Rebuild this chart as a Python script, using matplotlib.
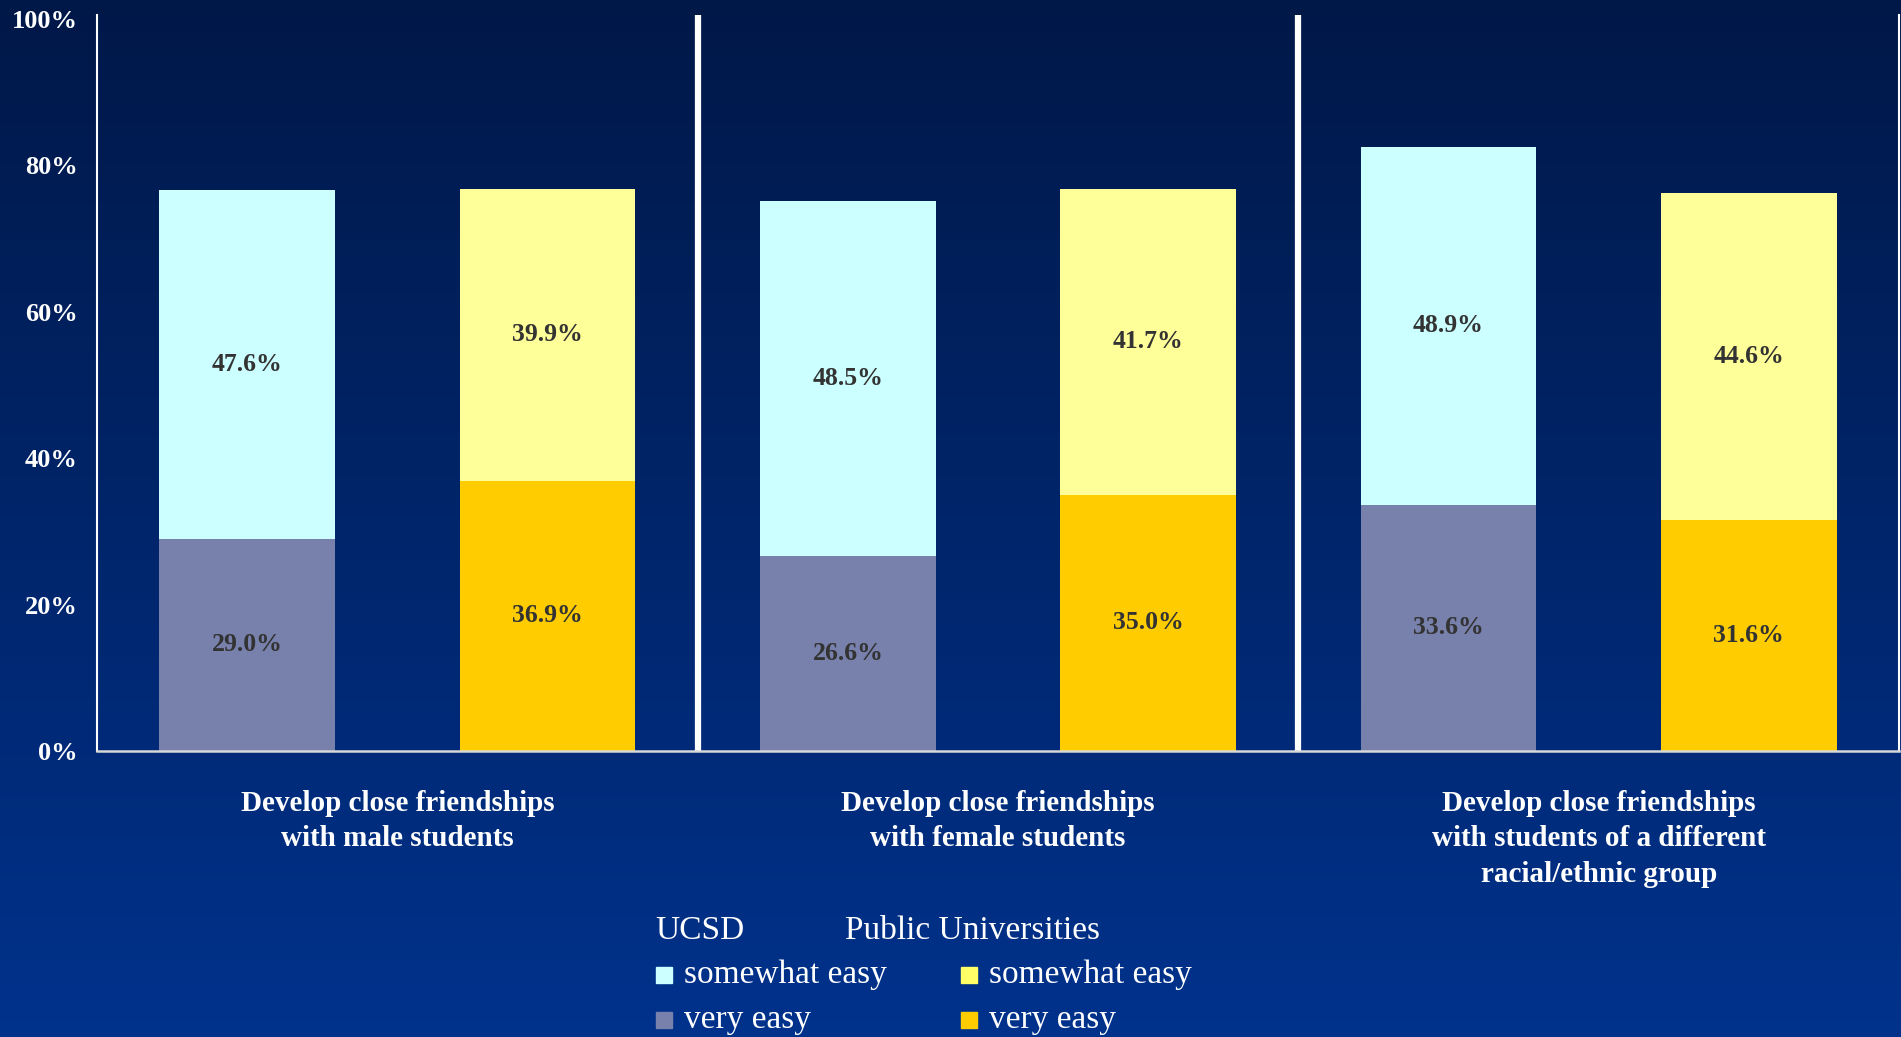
import numpy as np
import matplotlib
matplotlib.use("Agg")
import matplotlib.pyplot as plt
from matplotlib.patches import Rectangle

plt.rcParams['font.family'] = ['Liberation Serif', 'DejaVu Serif']

# Datos
categories = ["Develop close friendships\nwith male students",
              "Develop close friendships\nwith female students",
              "Develop close friendships\nwith students of a different\nracial/ethnic group"]
ucsd_very = [29.0, 26.6, 33.6]
ucsd_somewhat = [47.6, 48.5, 48.9]
public_very = [36.9, 35.0, 31.6]
public_somewhat = [39.9, 41.7, 44.6]
yticks = [0, 20, 40, 60, 80, 100]

c_ucsd_very = "#7880ac"
c_ucsd_some = "#ccffff"
c_pub_very = "#ffcc00"
c_pub_some = "#ffff99"

W, H = 1901, 1037
fig = plt.figure(figsize=(W / 100, H / 100), dpi=100)

# fondo degradado
bg = fig.add_axes([0, 0, 1, 1], zorder=-1)
top = np.array([0, 24, 72]) / 255
bot = np.array([0, 50, 140]) / 255
t = np.linspace(0, 1, 256)[:, None]
grad = (top * (1 - t) + bot * t)[:, None, :]
bg.imshow(grad, aspect="auto", extent=[0, 1, 0, 1])
bg.axis("off")

ax = fig.add_axes([97 / W, 1 - 751 / H, (1899 - 97) / W, (751 - 15) / H])
ax.set_facecolor("none")

n = len(categories)
x_ucsd = np.arange(n) * 2 + 0.5
x_pub = np.arange(n) * 2 + 1.5
bw = 0.585

ax.bar(x_ucsd, ucsd_very, bw, color=c_ucsd_very)
ax.bar(x_ucsd, ucsd_somewhat, bw, bottom=ucsd_very, color=c_ucsd_some)
ax.bar(x_pub, public_very, bw, color=c_pub_very)
ax.bar(x_pub, public_somewhat, bw, bottom=public_very, color=c_pub_some)

lab = dict(ha="center", va="center", fontsize=18.5, fontweight="bold", color="#333333")
for i in range(n):
    ax.text(x_ucsd[i], ucsd_very[i] / 2, f"{ucsd_very[i]:.1f}%", **lab)
    ax.text(x_ucsd[i], ucsd_very[i] + ucsd_somewhat[i] / 2, f"{ucsd_somewhat[i]:.1f}%", **lab)
    ax.text(x_pub[i], public_very[i] / 2, f"{public_very[i]:.1f}%", **lab)
    ax.text(x_pub[i], public_very[i] + public_somewhat[i] / 2, f"{public_somewhat[i]:.1f}%", **lab)

# separadores
for xs in [2, 4]:
    ax.axvline(xs, color="white", lw=4.5)

ax.set_xlim(0, 6)
ax.set_ylim(0, 100.5)
ax.set_yticks(yticks)
ax.set_yticklabels([f"{v}%" for v in yticks], fontsize=19, fontweight="bold", color="white")
ax.set_xticks(np.arange(n) * 2 + 1)
ax.set_xticklabels(categories, fontsize=21, fontweight="bold", color="white", linespacing=1.4)
ax.tick_params(axis="y", length=0, pad=14)
ax.tick_params(axis="x", length=0, pad=28)

ax.spines["top"].set_visible(False)
ax.spines["left"].set_color("white")
ax.spines["left"].set_linewidth(1.5)
ax.spines["right"].set_color("white")
ax.spines["right"].set_linewidth(1.5)
ax.spines["bottom"].set_color("#d8d8d8")
ax.spines["bottom"].set_linewidth(1.8)

# leyenda manual
leg = dict(fontsize=24, color="white", va="center", ha="left")
fig.text(655 / W, 1 - 931 / H, "UCSD", **leg)
fig.text(845 / W, 1 - 931 / H, "Public Universities", **leg)
items = [(656, 975, c_ucsd_some, "somewhat easy"),
         (656, 1020, c_ucsd_very, "very easy"),
         (961, 975, "#ffff66", "somewhat easy"),
         (961, 1020, c_pub_very, "very easy")]
sq = 16
for x0, yc, col, txt in items:
    fig.patches.append(Rectangle((x0 / W, 1 - (yc + sq / 2) / H), sq / W, sq / H,
                                 transform=fig.transFigure, color=col, figure=fig))
    fig.text((x0 + 28) / W, 1 - yc / H, txt, **leg)

fig.savefig("out.png", dpi=100)
